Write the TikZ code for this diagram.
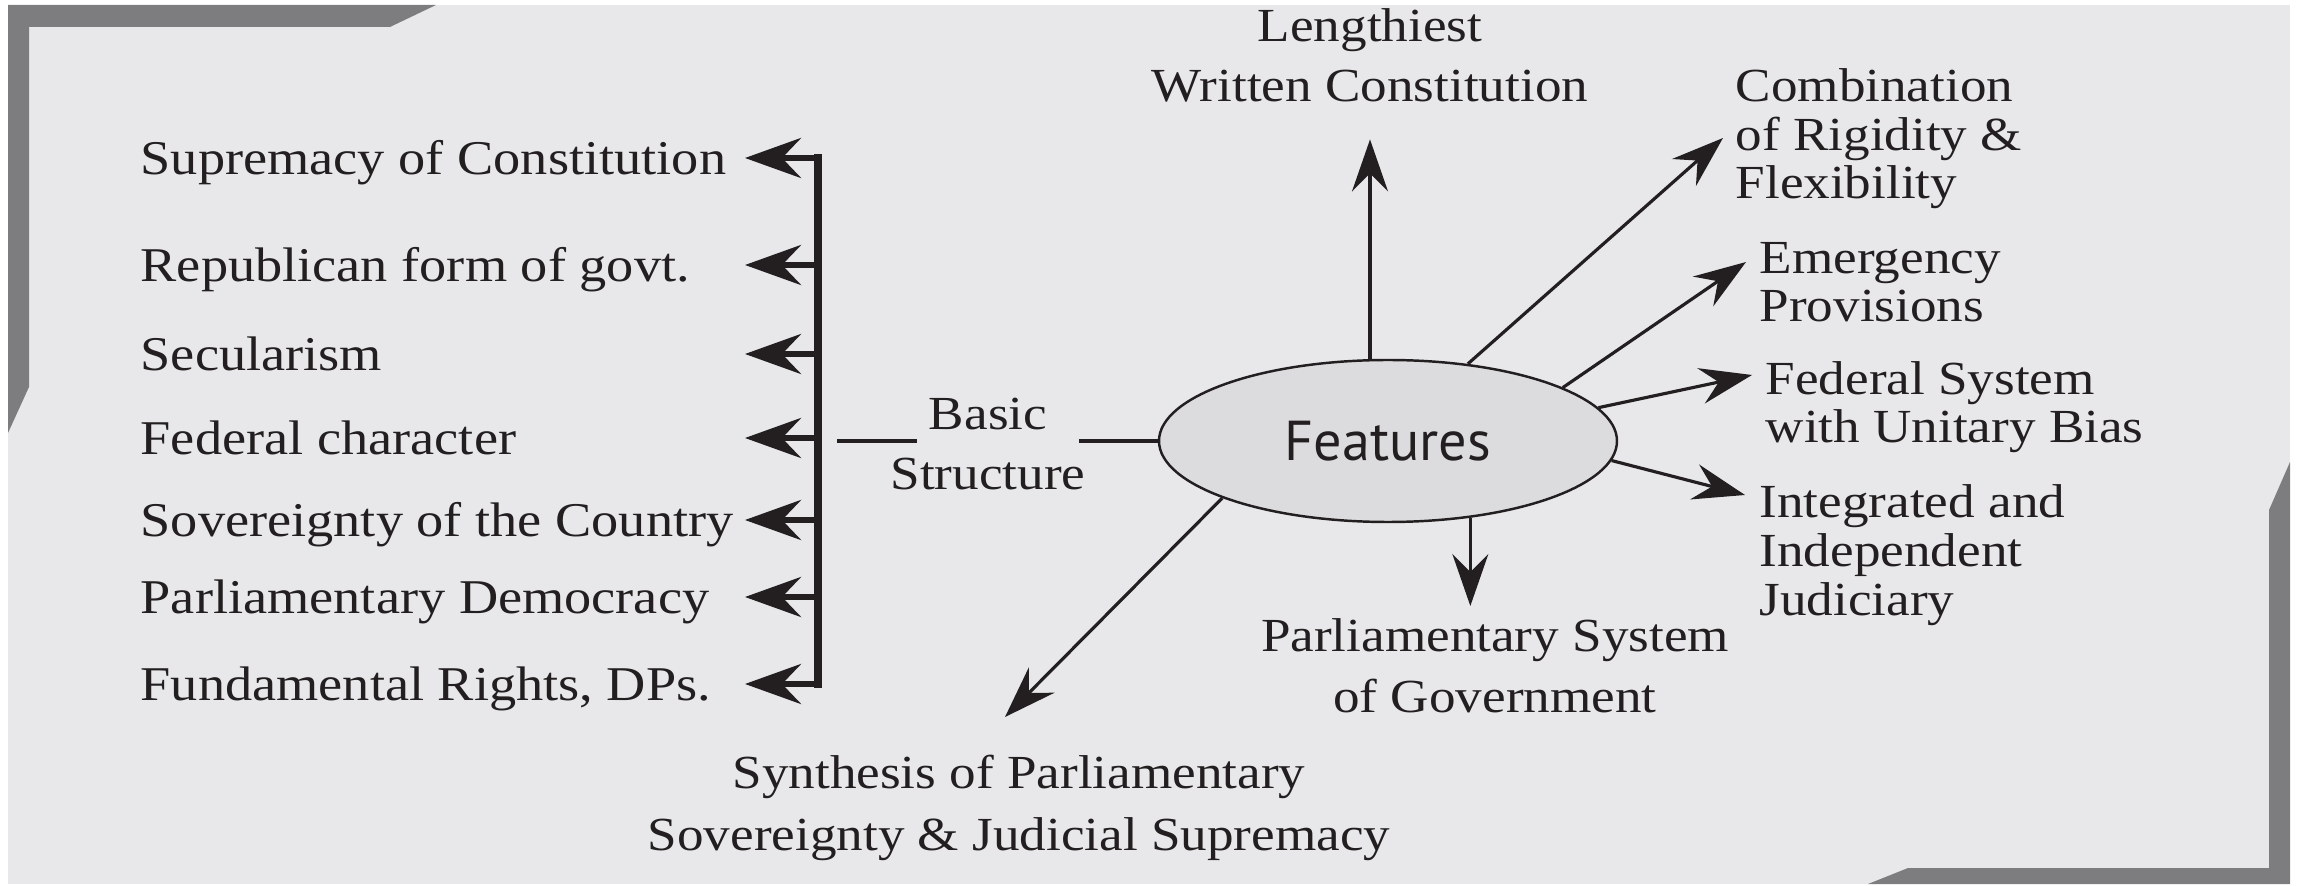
\documentclass[tikz,border=0pt]{standalone}
\usepackage{fontspec}
\setmainfont{Liberation Serif}[FakeStretch=1.12]
\newfontfamily\featfont{PT Sans}
\usepackage{tikz}
\usetikzlibrary{positioning}
\usetikzlibrary{shapes}
\usetikzlibrary{calc}
\usetikzlibrary{arrows.meta}
\usepackage{xcolor}
\definecolor{panelgray} {RGB} {232,232,234}
\definecolor{bandgray} {RGB} {125,125,127}
\definecolor{featgray} {RGB} {220,220,222}
\definecolor{inkblack} {RGB} {35,31,32}
\tikzstyle{item} = [anchor=west,inner sep=0pt,text height=3.4mm,text depth=0pt,font=\fontsize{13.8}{13.9}\selectfont]
\tikzstyle{side} = [anchor=base west,align=left,inner sep=0pt,font=\fontsize{13.5}{13.9}\selectfont]
\tikzstyle{mid} = [anchor=base,align=center,inner sep=0pt,font=\fontsize{13.5}{17.1}\selectfont]
\tikzstyle{featarrow} = [line width=0.9pt,-{Stealth[length=5.2mm,width=3.6mm,inset=1.8mm]}]
\tikzstyle{listarrow} = [line width=1.8pt,-{Stealth[length=5.6mm,width=4mm,inset=1.9mm]}]

\begin{document}
\begin{tikzpicture}[x=0.1mm,y=-0.1mm,color=inkblack]
  \useasboundingbox (0,0) rectangle (2298,886);

  % panel with the two corner bands
  \fill[panelgray] (8,5) rectangle (2290,884);
  \fill[bandgray] (8,5) -- (436,5) -- (390,27) -- (29,27) -- (29,387) -- (8,433) -- cycle;
  \fill[bandgray] (2290,462) -- (2290,884) -- (1868,884) -- (1908,868) -- (2269,868) -- (2269,510) -- cycle;

  \node [draw,ellipse,fill=featgray,line width=0.7pt,minimum width=45.8mm,minimum height=16.2mm,inner sep=0pt] (feat) at (1388,441) {\featfont\fontsize{16}{19}\selectfont Features};

  % basic structure side
  \node [item] (s1) at (140,158) {Supremacy of Constitution};
  \node [item] (s2) at (140,265) {Republican form of govt.};
  \node [item] (s3) at (140,354) {Secularism};
  \node [item] (s4) at (140,438) {Federal character};
  \node [item] (s5) at (140,520) {Sovereignty of the Country};
  \node [item] (s6) at (140,597) {Parliamentary Democracy};
  \node [item] (s7) at (140,684) {Fundamental Rights, DPs.};

  \coordinate (bar) at (818,0);
  \coordinate (tips) at (745,0);
  \draw [line width=2.3pt,line cap=rect] (s1 -| bar) -- (s7 -| bar);
  \draw [listarrow] (s1 -| bar) -- (s1 -| tips);
  \draw [listarrow] (s2 -| bar) -- (s2 -| tips);
  \draw [listarrow] (s3 -| bar) -- (s3 -| tips);
  \draw [listarrow] (s4 -| bar) -- (s4 -| tips);
  \draw [listarrow] (s5 -| bar) -- (s5 -| tips);
  \draw [listarrow] (s6 -| bar) -- (s6 -| tips);
  \draw [listarrow] (s7 -| bar) -- (s7 -| tips);

  \node [mid] (basic) at (988,490) {Basic\\Structure};
  \draw [line width=1.2pt] ($(bar |- feat.west)+(19,0)$) -- ($(basic.base |- feat.west)+(-71,0)$);
  \draw [line width=1.2pt] ($(basic.base |- feat.west)+(91,0)$) -- (feat.west);

  % features
  \node [mid] (lengthy) at (1370,102) {Lengthiest\\Written Constitution};
  \node [side] (combo) at (1735,199) {Combination\\of Rigidity \&\\Flexibility};
  \node [side] (emerg) at (1759,322) {Emergency\\Provisions};
  \node [side] (fedsys) at (1765,443) {Federal System\\with Unitary Bias};
  \node [side] (judic) at (1759,615) {Integrated and\\Independent\\Judiciary};
  \node [mid] (parlsys) at (1495,712) {Parliamentary System\\of Government};
  \node [mid,font=\fontsize{13.5}{17.6}\selectfont] (synth) at (1019,850) {Synthesis of Parliamentary\\Sovereignty \& Judicial Supremacy};

  \draw [featarrow,shorten >=3.6mm] (lengthy.south |- feat.north) -- (lengthy.south);
  \draw [featarrow] (feat.44) -- ([shift={(-12,-61)}]combo.base west);
  \draw [featarrow] (feat.17.6) -- ([shift={(-13,-60)}]emerg.base west);
  \draw [featarrow] (feat.9.2) -- ([shift={(-13,-68)}]fedsys.base west);
  \draw [featarrow] (feat.-5.6) -- ([shift={(-14,-120)}]judic.base west);
  \draw [featarrow] (feat.-43.5) -- ($(feat.-43.5 |- parlsys.base)+(0,-106)$);
  \draw [featarrow] (feat.199) -- ([shift={(-14,-133)}]synth.base);

\end{tikzpicture}
\end{document}
